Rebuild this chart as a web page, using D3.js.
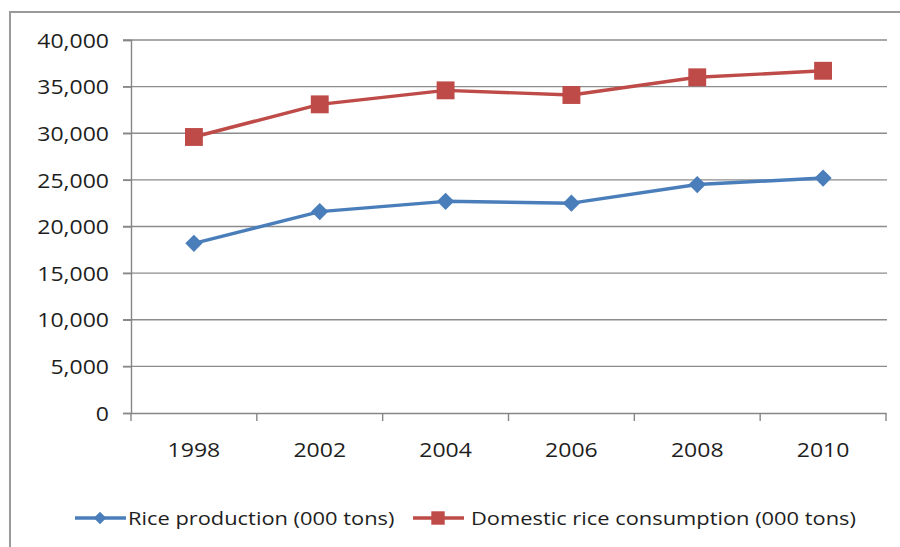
<!DOCTYPE html>
<html>
<head>
<meta charset="utf-8">
<script src="https://cdn.jsdelivr.net/npm/d3@7/dist/d3.min.js"></script>
<style>
  html, body { margin: 0; padding: 0; background: #fff; }
  svg { display: block; }
  text { font-family: "Open Sans", "DejaVu Sans", sans-serif; fill: #1e1e1e; }
</style>
</head>
<body>
<svg id="chart" width="900" height="547"></svg>
<script>
// Rice production vs. domestic consumption, thousand tons
const years = ["1998", "2002", "2004", "2006", "2008", "2010"];
const production = [18200, 21600, 22700, 22500, 24500, 25200];
const consumption = [29600, 33100, 34600, 34100, 36000, 36700];
const yTicks = [0, 5000, 10000, 15000, 20000, 25000, 30000, 35000, 40000];
const seriesNames = ["Rice production (000 tons)", "Domestic rice consumption (000 tons)"];
const seriesColors = ["#4a7ebb", "#be4b48"];

const svg = d3.select("#chart");
const W = 900, H = 547;
const plot = { left: 131, right: 886, top: 40, bottom: 413 };
const stretch = 1.15;

// widen text horizontally a little
function widen(sel) {
  sel.each(function () {
    const len = this.getComputedTextLength();
    d3.select(this).attr("textLength", len * stretch).attr("lengthAdjust", "spacingAndGlyphs");
  });
}

// outer frame (left and top edges)
svg.append("path")
  .attr("d", `M10,${H} L10,12 L${W},12`)
  .attr("fill", "none").attr("stroke", "#9a9a9a").attr("stroke-width", 2);

const x = d3.scaleBand().domain(years).range([plot.left, plot.right]);
const y = d3.scaleLinear().domain([0, 40000]).range([plot.bottom, plot.top]);

// horizontal gridlines
svg.append("g").selectAll("line").data(yTicks.filter(d => d > 0)).join("line")
  .attr("x1", plot.left - 8).attr("x2", plot.right + 1)
  .attr("y1", d => y(d)).attr("y2", d => y(d))
  .attr("stroke", "#8c8c8c").attr("stroke-width", 1.4);

// y axis
const yAxis = svg.append("g").attr("transform", `translate(${plot.left},0)`)
  .call(d3.axisLeft(y).tickValues(yTicks).tickFormat(d3.format(",")).tickSize(8).tickPadding(14));
yAxis.select(".domain").attr("stroke", "#868686").attr("stroke-width", 1.4);
yAxis.selectAll(".tick line").attr("stroke", "#868686").attr("stroke-width", 1.4);
yAxis.selectAll(".tick text").attr("font-size", 20).attr("fill", "#1e1e1e")
  .attr("font-family", "'Open Sans', sans-serif").attr("dy", "0.36em")
  .call(widen);

// x axis with ticks at category boundaries
const xAxis = svg.append("g").attr("transform", `translate(0,${plot.bottom})`)
  .call(d3.axisBottom(x).tickSize(0).tickPadding(30));
xAxis.select(".domain").attr("stroke", "#868686").attr("stroke-width", 1.4);
xAxis.selectAll(".tick text").attr("font-size", 20).attr("fill", "#1e1e1e")
  .attr("font-family", "'Open Sans', sans-serif")
  .call(widen);
const bounds = years.map(d => x(d)).concat([x(years[years.length - 1]) + x.bandwidth()]);
svg.append("g").selectAll("line").data(bounds).join("line")
  .attr("x1", d => d).attr("x2", d => d)
  .attr("y1", plot.bottom).attr("y2", plot.bottom + 8)
  .attr("stroke", "#868686").attr("stroke-width", 1.4);

const cx = d => x(d) + x.bandwidth() / 2;
const line = d3.line().x(d => cx(d.year)).y(d => y(d.v));

const series = [production, consumption].map((vals, i) => ({
  name: seriesNames[i], color: seriesColors[i],
  symbol: i === 0 ? d3.symbolDiamond2 : d3.symbolSquare,
  size: i === 0 ? 190 : 320,
  points: years.map((yr, j) => ({ year: yr, v: vals[j] }))
}));

series.forEach(s => {
  svg.append("path").datum(s.points)
    .attr("d", line).attr("fill", "none")
    .attr("stroke", s.color).attr("stroke-width", 3.4).attr("stroke-linejoin", "round");
  svg.append("g").selectAll("path").data(s.points).join("path")
    .attr("transform", d => `translate(${cx(d.year)},${y(d.v)})`)
    .attr("d", d3.symbol(s.symbol, s.size))
    .attr("fill", s.color);
});

// legend
const legendY = 518;
const legendItems = [
  { s: series[0], x0: 75, textX: 128, mark: 100 },
  { s: series[1], x0: 413, textX: 471, mark: 180 }
];
legendItems.forEach(it => {
  const g = svg.append("g");
  g.append("line").attr("x1", it.x0).attr("x2", it.x0 + 51)
    .attr("y1", legendY).attr("y2", legendY)
    .attr("stroke", it.s.color).attr("stroke-width", 3.4);
  g.append("path")
    .attr("transform", `translate(${it.x0 + 25},${legendY})`)
    .attr("d", d3.symbol(it.s.symbol, it.mark))
    .attr("fill", it.s.color);
  g.append("text").attr("x", it.textX).attr("y", legendY).attr("dy", "0.36em")
    .attr("font-size", 19).text(it.s.name).call(widen);
});
</script>
</body>
</html>
